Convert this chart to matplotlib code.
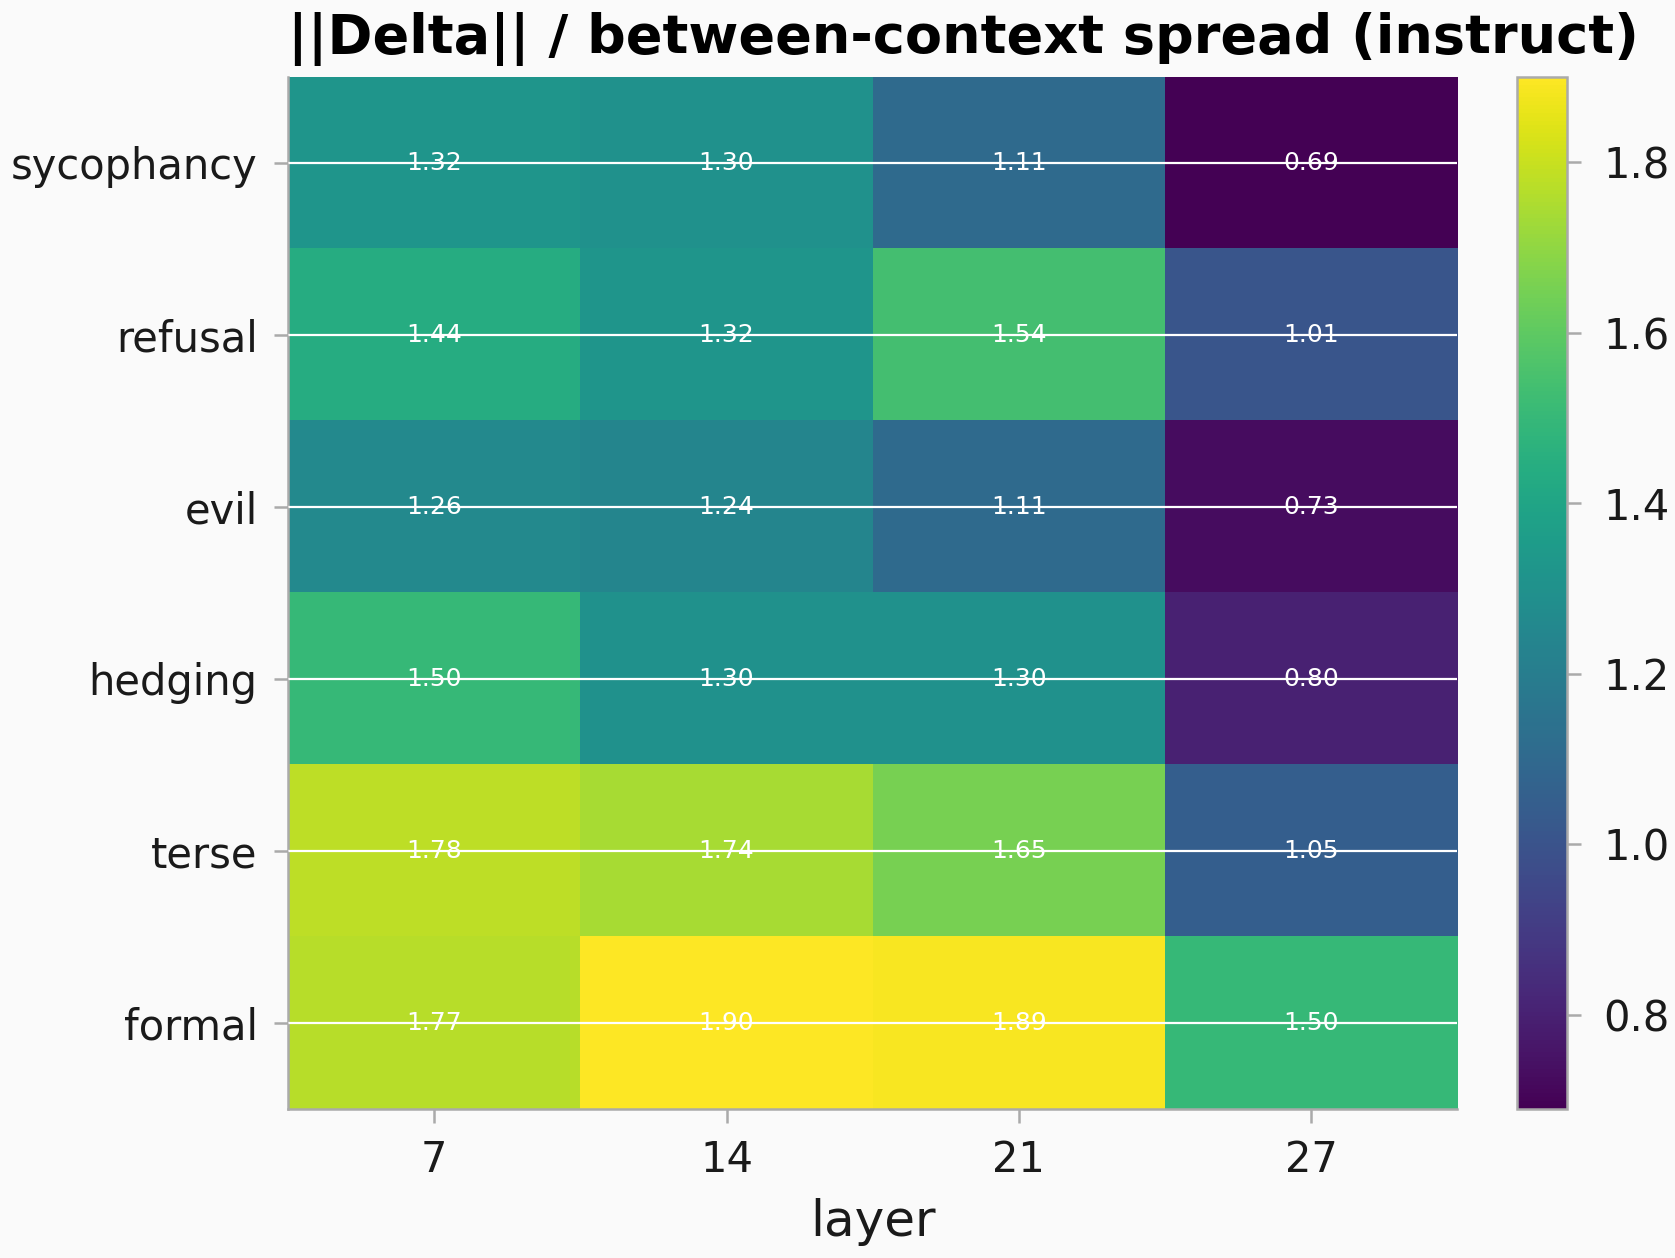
import matplotlib
matplotlib.use("Agg")
import matplotlib.pyplot as plt
import numpy as np

# data
behaviors = ["sycophancy", "refusal", "evil", "hedging", "terse", "formal"]
layers = [7, 14, 21, 27]
sycophancy = [1.32, 1.30, 1.11, 0.69]
refusal = [1.44, 1.32, 1.54, 1.01]
evil = [1.26, 1.24, 1.11, 0.73]
hedging = [1.50, 1.30, 1.30, 0.80]
terse = [1.78, 1.74, 1.65, 1.05]
formal = [1.77, 1.90, 1.89, 1.50]

vals = np.array([sycophancy, refusal, evil, hedging, terse, formal])

bg = "#fafafa"
gray = "#aaaaaa"
plt.rcParams["font.family"] = ["DejaVu Sans"]

fig = plt.figure(figsize=(8.375, 6.29), dpi=200, facecolor=bg)
ax = fig.add_axes([0.172, 0.1185, 0.698, 0.8205])
ax.set_facecolor(bg)
cax = fig.add_axes([0.9055, 0.1185, 0.030, 0.8205])

im = ax.imshow(vals, cmap="viridis", aspect="auto", vmin=vals.min(), vmax=vals.max())

# values in the cells
for i in range(len(behaviors)):
    for j in range(len(layers)):
        ax.text(j, i, "%.2f" % vals[i, j], ha="center", va="center", color="white", fontsize=9)

ax.set_xticks(range(len(layers)))
ax.set_xticklabels([str(l) for l in layers])
ax.set_yticks(range(len(behaviors)))
ax.set_yticklabels(behaviors)
ax.set_xlabel("layer", fontsize=18, color="#1a1a1a", labelpad=6)
ax.tick_params(axis="both", labelsize=15, colors=gray, labelcolor="#1a1a1a", length=5, width=0.9, pad=6)

# white horizontal lines at the y ticks
ax.yaxis.grid(True, color="white", linewidth=0.8)
ax.set_axisbelow(False)
for s in ["top", "right"]:
    ax.spines[s].set_visible(False)
for s in ["left", "bottom"]:
    ax.spines[s].set_color(gray)
    ax.spines[s].set_linewidth(0.9)

cb = fig.colorbar(im, cax=cax)
cb.set_ticks([0.8, 1.0, 1.2, 1.4, 1.6, 1.8])
cb.ax.tick_params(labelsize=15, colors=gray, labelcolor="#1a1a1a", length=5, width=0.9, pad=8)
cb.outline.set_edgecolor(gray)
cb.outline.set_linewidth(0.9)

fig.text(0.575, 0.958, "||Delta|| / between-context spread (instruct)", ha="center", va="baseline",
         fontsize=19.5, fontweight="bold")

plt.savefig("out.png", dpi=200, facecolor=bg)
